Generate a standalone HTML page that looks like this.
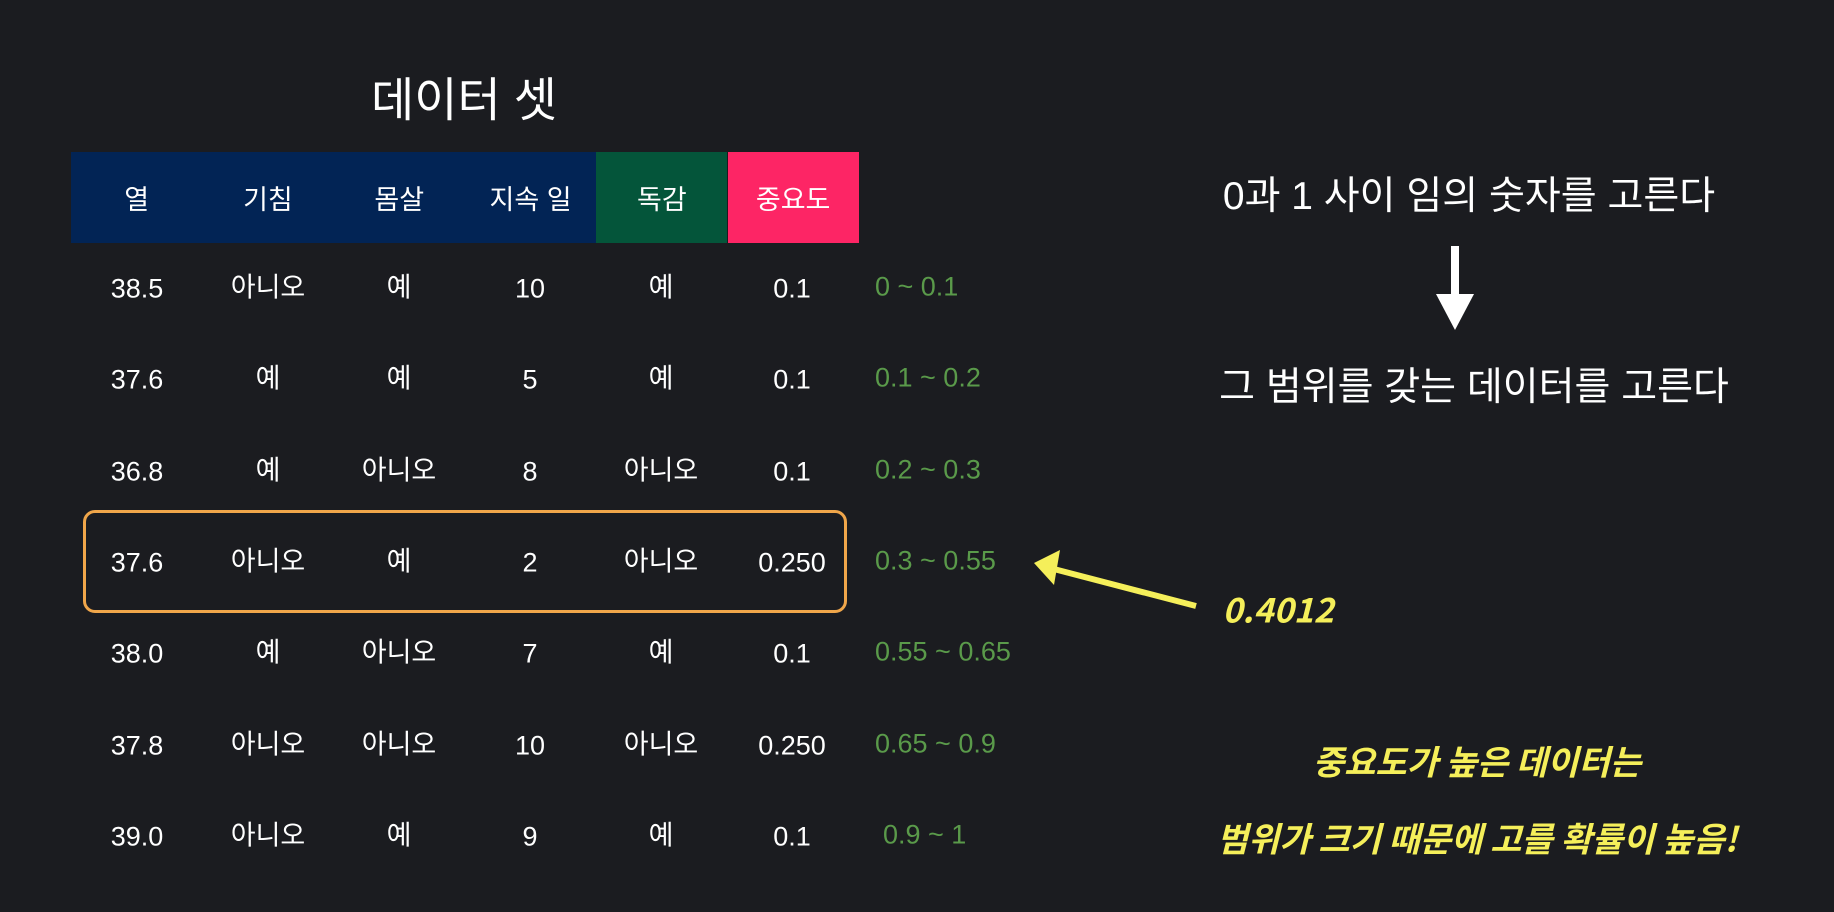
<!DOCTYPE html>
<html><head><meta charset="utf-8"><style>
body{margin:0;width:1834px;height:912px;background:#1b1c20;overflow:hidden;font-family:"Liberation Sans","Noto Sans CJK KR",sans-serif;color:#fff;position:relative}
.a{position:absolute;transform:translate(-50%,-50%);white-space:nowrap}
.h{position:absolute;top:152px;height:91px;width:131.3px;display:flex;align-items:center;justify-content:center;font-size:27px}
.c{position:absolute;transform:translate(-50%,-50%);font-size:27px;white-space:nowrap}
.r{position:absolute;transform:translateY(-50%);font-size:27px;color:#5a9a4a;white-space:nowrap}
.y{color:#f5ef5a;font-family:"Noto Sans CJK KR",sans-serif;font-weight:bold;font-style:italic}
</style></head><body>
<div class="a" style="left:464px;top:96px;font-size:47px">데이터 셋</div>
<div id="tbl"></div>
<div style="position:absolute;left:83px;top:510px;width:758px;height:97px;border:3px solid #f0a64a;border-radius:12px"></div>
<div class="a" style="left:1469px;top:193px;font-size:39px">0과 1 사이 임의 숫자를 고른다</div>
<svg style="position:absolute;left:1430px;top:246px" width="50" height="86"><rect x="21" y="0" width="8" height="50" fill="#fff"/><polygon points="6,48 44,48 25,84" fill="#fff"/></svg>
<div class="a" style="left:1474px;top:384px;font-size:39px">그 범위를 갖는 데이터를 고른다</div>
<svg style="position:absolute;left:0;top:0" width="1834" height="912"><line x1="1196" y1="606" x2="1050" y2="568" stroke="#f5ef5a" stroke-width="6"/><polygon points="1034,563 1060,550 1054,585" fill="#f5ef5a"/></svg>
<div class="a y" style="left:1278px;top:608px;font-size:34px">0.4012</div>
<div class="a y" style="left:1477px;top:760px;font-size:34px">중요도가 높은 데이터는</div>
<div class="a y" style="left:1477px;top:837px;font-size:34px">범위가 크기 때문에 고를 확률이 높음!</div>
<script>
const headers=["열","기침","몸살","지속 일","독감","중요도"];
const headerColors=["#022455","#022455","#022455","#022455","#04553a","#fd2565"];
const rows=[["38.5","아니오","예","10","예","0.1"],["37.6","예","예","5","예","0.1"],["36.8","예","아니오","8","아니오","0.1"],["37.6","아니오","예","2","아니오","0.250"],["38.0","예","아니오","7","예","0.1"],["37.8","아니오","아니오","10","아니오","0.250"],["39.0","아니오","예","9","예","0.1"]];
const ranges=["0 ~ 0.1","0.1 ~ 0.2","0.2 ~ 0.3","0.3 ~ 0.55","0.55 ~ 0.65","0.65 ~ 0.9","0.9 ~ 1"];
const t=document.getElementById('tbl');
headers.forEach((h,i)=>{const d=document.createElement('div');d.className='h';


d.style.left=(71+i*131.3)+'px';d.style.background=headerColors[i];d.textContent=h;t.appendChild(d);});
rows.forEach((r,j)=>{const y=289+j*91.3;r.forEach((v,i)=>{const d=document.createElement('div');d.className='c';


d.style.left=(137+i*131)+'px';d.style.top=(y+(isNaN(+v)?-4:0))+'px';d.textContent=v;t.appendChild(d);});
const g=document.createElement('div');g.className='r';


g.style.left=(j==6?883:875)+'px';g.style.top=(y-2)+'px';g.textContent=ranges[j];t.appendChild(g);});
</script>
</body></html>
